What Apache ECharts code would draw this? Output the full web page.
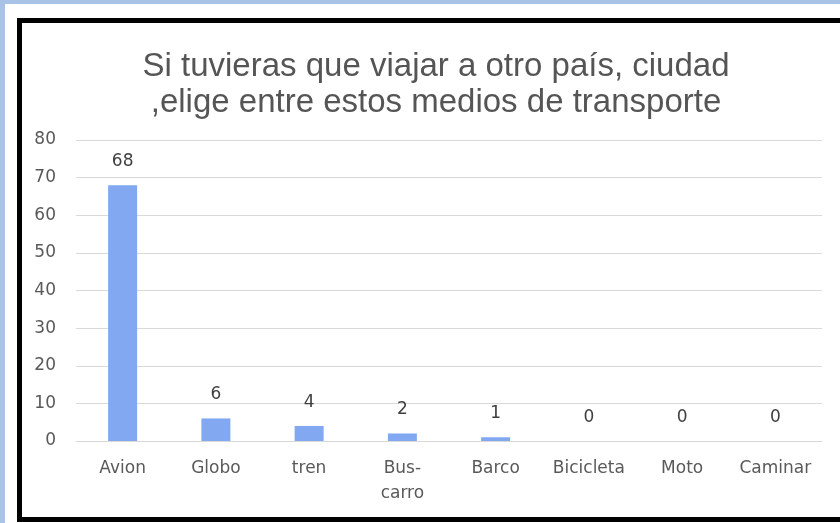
<!DOCTYPE html>
<html>
<head>
<meta charset="utf-8">
<script src="https://cdn.jsdelivr.net/npm/echarts@6/dist/echarts.min.js"></script>
<style>
html,body{margin:0;padding:0;background:#a9c3e7;}
#c{width:840px;height:523px;}
</style>
</head>
<body>
<div id="c"></div>
<script>
var categories = ['Avion', 'Globo', 'tren', 'Bus-\ncarro', 'Barco', 'Bicicleta', 'Moto', 'Caminar'];
var values = [68, 6, 4, 2, 1, 0, 0, 0];
var yTicks = [0, 10, 20, 30, 40, 50, 60, 70, 80];
var titleText = 'Si tuvieras que viajar a otro país, ciudad\n,elige entre estos medios de transporte';

var chart = echarts.init(document.getElementById('c'), null, {renderer: 'canvas'});
chart.setOption({
  backgroundColor: '#a9c3e7',
  animation: false,
  graphic: [
    {type: 'rect', z: -10, shape: {x: 5, y: 4, width: 840, height: 525}, style: {fill: '#ffffff'}},
    {type: 'rect', z: 100, shape: {x: 19.5, y: 20.5, width: 830, height: 499}, style: {fill: 'none', stroke: '#000000', lineWidth: 5}}
  ],
  title: {
    text: titleText,
    left: 431,
    top: 44,
    textAlign: 'center',
    textStyle: {fontFamily: 'Liberation Sans, Arial', fontSize: 33, fontWeight: 'normal', color: '#555555', lineHeight: 36}
  },
  grid: {left: 76, right: 18, top: 140, bottom: 82, containLabel: false},
  xAxis: {
    type: 'category',
    data: categories,
    axisLine: {show: true, lineStyle: {color: '#d9d9d9', width: 1}},
    axisTick: {show: false},
    axisLabel: {color: '#595959', fontFamily: 'DejaVu Sans', fontSize: 17, margin: 15, lineHeight: 25, interval: 0}
  },
  yAxis: {
    type: 'value',
    min: yTicks[0],
    max: yTicks[yTicks.length - 1],
    interval: 10,
    axisLine: {show: false},
    axisTick: {show: false},
    splitLine: {lineStyle: {color: '#d9d9d9', width: 1}},
    axisLabel: {color: '#595959', fontFamily: 'DejaVu Sans', fontSize: 17, margin: 20}
  },
  series: [{
    type: 'bar',
    data: values,
    barWidth: 29,
    itemStyle: {color: '#82a8f1'},
    label: {show: true, position: 'top', distance: 15, color: '#404040', fontFamily: 'DejaVu Sans', fontSize: 17}
  }]
});
</script>
</body>
</html>
